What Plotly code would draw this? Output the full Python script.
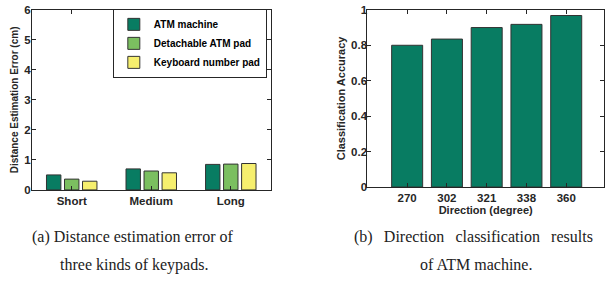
import plotly.graph_objects as go

# ---- data ----
dist_categories = ["Short", "Medium", "Long"]
dist_series_names = ["ATM machine", "Detachable ATM pad", "Keyboard number pad"]
atm_machine = [0.50, 0.70, 0.85]
detachable_pad = [0.36, 0.63, 0.86]
keyboard_pad = [0.29, 0.57, 0.88]
dist_yticks = [0, 1, 2, 3, 4, 5, 6]

dir_categories = ["270", "302", "321", "338", "360"]
dir_accuracy = [0.80, 0.835, 0.90, 0.918, 0.968]
dir_yticks = [0, 0.2, 0.4, 0.6, 0.8, 1]
dir_yticklabels = ["0", "0.2", "0.4", "0.6", "0.8", "1"]

caption_a = ["(a) Distance estimation error of", "three kinds of keypads."]
caption_b = ["(b) Direction classification results", "of ATM machine."]

# ---- style ----
W, H = 605, 285
INK = "#262626"
EDGE = "#333333"
colors = ["#087c62", "#7bbf60", "#f6ef6e"]
SANS = "Liberation Sans, Arial, sans-serif"
SERIF = "Liberation Serif, Times New Roman, serif"

def px(x):
    return x / W

def py(y):
    return 1 - y / H

fig = go.Figure()

xpos_a = list(range(1, len(dist_categories) + 1))
for name, vals, col in zip(dist_series_names, [atm_machine, detachable_pad, keyboard_pad], colors):
    fig.add_trace(go.Bar(
        x=xpos_a, y=vals, name=name, xaxis="x", yaxis="y",
        marker=dict(color=col, line=dict(color=EDGE, width=1)),
    ))

xpos_b = list(range(1, len(dir_categories) + 1))
fig.add_trace(go.Bar(
    x=xpos_b, y=dir_accuracy, name="accuracy", xaxis="x2", yaxis="y2",
    showlegend=False, width=0.78,
    marker=dict(color=colors[0], line=dict(color=EDGE, width=1)),
))

tickfont = dict(family=SANS, size=11.5, color=INK, weight="bold")
axis_common = dict(showline=True, linecolor=INK, linewidth=1, mirror="ticks",
                   ticks="inside", ticklen=4, tickcolor=INK, showgrid=False,
                   zeroline=False, tickfont=tickfont, ticklabeloverflow="allow")

fig.update_layout(
    width=W, height=H,
    margin=dict(l=0, r=0, t=0, b=0),
    paper_bgcolor="white", plot_bgcolor="white",
    barmode="group", bargap=0.32, bargroupgap=0.2,
    xaxis=dict(domain=[px(32), px(271)], range=[0.5, 3.5],
               tickvals=xpos_a, ticktext=dist_categories, anchor="y", **axis_common),
    yaxis=dict(domain=[py(192), py(4)], range=[0, 6], tickvals=dist_yticks,
               anchor="x", ticklabelstandoff=-2,
               title=dict(text="Distance Estimation Error (cm)",
                          font=dict(family=SANS, size=10, color=INK, weight="bold"), standoff=3),
               **axis_common),
    xaxis2=dict(domain=[px(368), 1.0], range=[0, 5.95],
                tickvals=xpos_b, ticktext=dir_categories, anchor="y2",
                title=dict(text="Direction (degree)",
                           font=dict(family=SANS, size=11, color=INK, weight="bold"), standoff=0),
                **axis_common),
    yaxis2=dict(domain=[py(189), py(4)], range=[0, 1], tickvals=dir_yticks,
                ticktext=dir_yticklabels, anchor="x2", ticklabelstandoff=-3,
                title=dict(text="Classification Accuracy",
                           font=dict(family=SANS, size=11, color=INK, weight="bold"), standoff=3),
                **axis_common),
    legend=dict(x=px(113), y=py(3), xanchor="left", yanchor="top",
                bgcolor="white", bordercolor=INK, borderwidth=1,
                font=dict(family=SANS, size=10, color="black", weight="bold"),
                tracegroupgap=0, itemwidth=30),
    showlegend=True,
)

cap_font = dict(family=SERIF, size=16, color="#222222")
# first line of caption (b) is justified in the original: slightly widen its word gaps
GAP_B = "\u00a0\u00a0\u2009"
fig.add_annotation(text=caption_a[0], xref="paper", yref="paper",
                   x=px(30), y=py(241), xanchor="left", yanchor="middle",
                   showarrow=False, font=cap_font)
fig.add_annotation(text=caption_a[1], xref="paper", yref="paper", x=px(134), y=py(270),
                   xanchor="center", yanchor="middle", showarrow=False, font=cap_font)
fig.add_annotation(text=caption_b[0].replace(" ", GAP_B), xref="paper", yref="paper",
                   x=px(353), y=py(241), xanchor="left", yanchor="middle",
                   showarrow=False, font=cap_font)
fig.add_annotation(text=caption_b[1], xref="paper", yref="paper", x=px(477), y=py(270),
                   xanchor="center", yanchor="middle", showarrow=False, font=cap_font)

fig.write_html("out.html", config={"displayModeBar": False},
               post_script="document.body.style.margin='0px';")
